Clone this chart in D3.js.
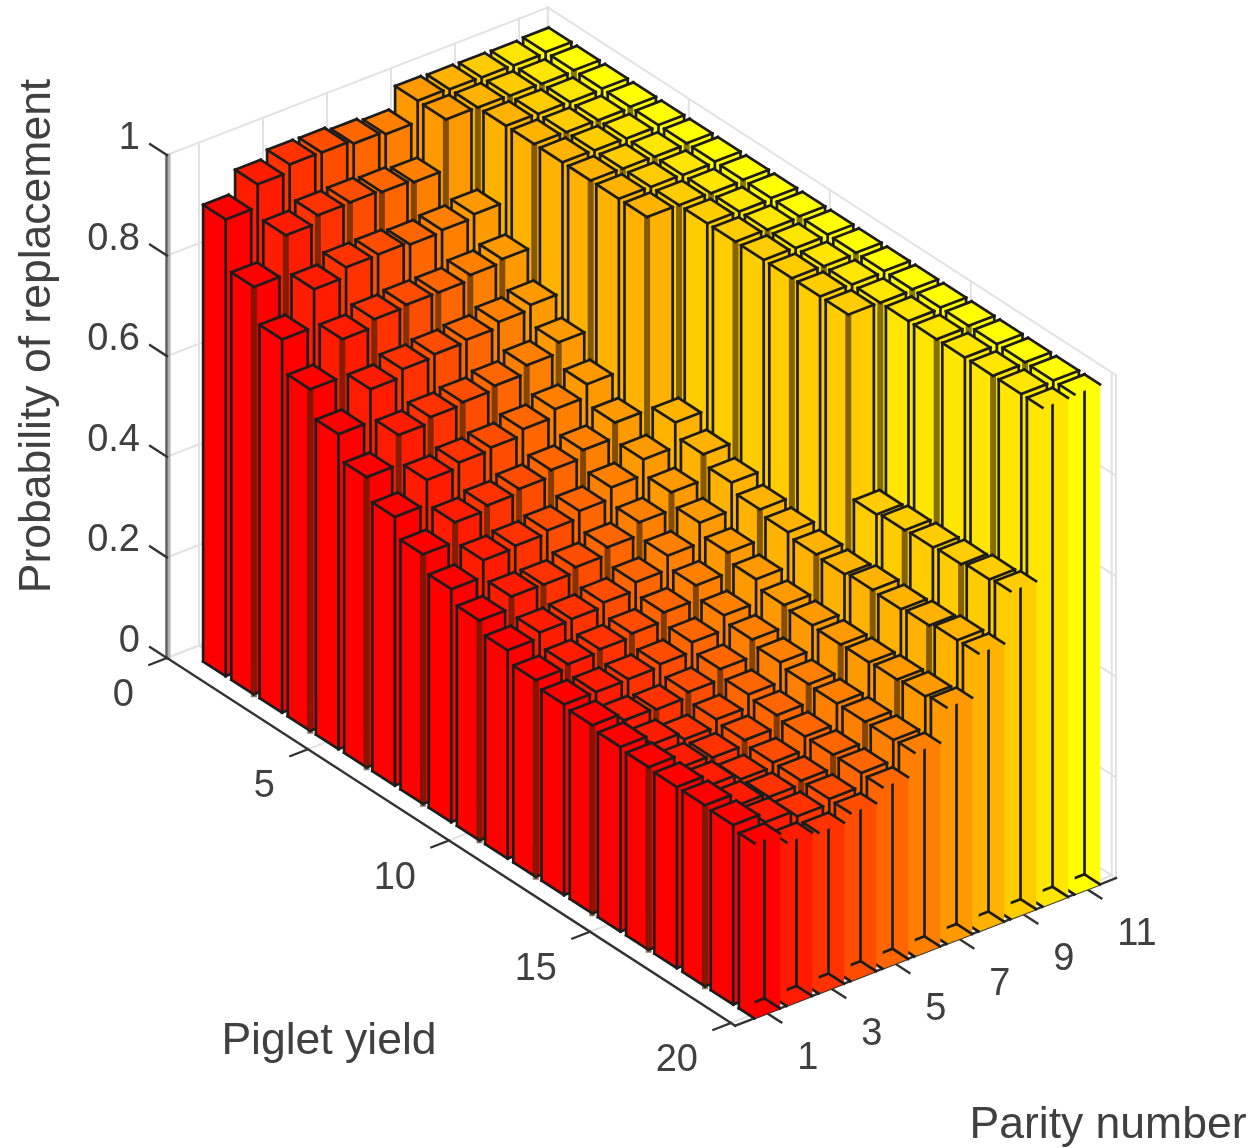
<!DOCTYPE html>
<html>
<head>
<meta charset="utf-8">
<script src="https://cdn.jsdelivr.net/npm/d3@7"></script>
<style>
body { margin: 0; background: #fff; }
text { font-family: "Liberation Sans", Arial, sans-serif; fill: #404040; }
</style>
</head>
<body>
<svg id="chart" width="1255" height="1148"></svg>
<script>
// one list per parity number, one value per piglet yield (1..20)
const parity1 = [.908,.81,.742,.679,.626,.577,.534,.496,.463,.437,.414,.391,.379,.374,.367,.363,.36,.36,.357,.348];
const parity2 = [.953,.888,.817,.754,.691,.636,.583,.535,.496,.46,.425,.398,.379,.359,.348,.338,.338,.335,.338,.325];
const parity3 = [.968,.903,.836,.769,.706,.647,.593,.544,.5,.459,.427,.403,.38,.356,.333,.333,.326,.327,.325,.32];
const parity4 = [.967,.904,.837,.773,.711,.652,.598,.552,.506,.469,.435,.41,.385,.366,.348,.343,.335,.335,.335,.334];
const parity5 = [.96,.9,.832,.773,.715,.66,.61,.565,.52,.484,.451,.427,.404,.387,.373,.368,.362,.362,.362,.361];
const parity6 = [.954,.895,.836,.783,.726,.676,.625,.58,.542,.509,.479,.456,.433,.421,.412,.405,.403,.403,.403,.405];
const parity7 = [.996,.995,.843,.79,.735,.697,.65,.61,.573,.544,.52,.497,.48,.465,.461,.459,.46,.462,.465,.47];
const parity8 = [.994,.994,.994,.994,.994,.994,.994,.994,.622,.595,.575,.558,.549,.541,.538,.543,.541,.545,.552,.553];
const parity9 = [.993,.993,.993,.993,.993,.993,.993,.993,.993,.993,.993,.993,.993,.993,.632,.637,.639,.642,.648,.652];
const parity10 = [.992,.992,.992,.992,.992,.992,.992,.992,.992,.992,.992,.992,.992,.992,.992,.992,.992,.992,.992,.992];
const parity11 = [.994,.994,.994,.994,.994,.994,.994,.994,.994,.994,.994,.994,.994,.994,.994,.994,.994,.994,.994,.994];
const allParity = [parity1,parity2,parity3,parity4,parity5,parity6,parity7,parity8,parity9,parity10,parity11];

const parityTicks = [1,3,5,7,9,11];
const yieldTicks = [0,5,10,15,20];
const zTicks = [0,0.2,0.4,0.6,0.8,1];

const svg = d3.select("#chart");

const blur = svg.append("filter").attr("id","soft");
blur.append("feGaussianBlur").attr("stdDeviation",0.7);
const root = svg.append("g").attr("filter","url(#soft)");

const pMin = 0, pMax = 11.9, yMin = 0, yMax = 20.15, halfBar = 0.4;
const originX = 167, originY = 658;

// oblique axes of the 3d box
const parityX = d3.scaleLinear().domain([0,12]).range([0,384]);
const parityY = d3.scaleLinear().domain([0,12]).range([0,-148.8]);
const yieldX = d3.scaleLinear().domain([0,20]).range([0,564]);
const yieldY = d3.scaleLinear().domain([0,20]).range([0,365]);
const zY = d3.scaleLinear().domain([0,1]).range([0,-503]);
const color = d3.scaleLinear().domain([1,11]).range(["#ff0000","#ffff00"]);

function project(p, y, z) {
    return [originX + parityX(p) + yieldX(y), originY + parityY(p) + yieldY(y) + zY(z)];
}

function seg(g, a, b, stroke, width) {
    g.append("line")
        .attr("x1", a[0]).attr("y1", a[1])
        .attr("x2", b[0]).attr("y2", b[1])
        .attr("stroke", stroke).attr("stroke-width", width)
        .attr("stroke-linecap", "square");
}

function poly(g, pts, fill) {
    g.append("polygon")
        .attr("points", pts.map(d => d.join(",")).join(" "))
        .attr("fill", fill).attr("stroke", fill).attr("stroke-width", 0.5);
}

// box walls and grid
const gridCol = "#e2e2e2";
const walls = root.append("g");
zTicks.forEach(z => {
    seg(walls, project(pMin,yMin,z), project(pMax,yMin,z), gridCol, 2);
    seg(walls, project(pMax,yMin,z), project(pMax,yMax,z), gridCol, 2);
});
parityTicks.forEach(p => {
    seg(walls, project(p,yMin,0), project(p,yMin,1), gridCol, 2);
    seg(walls, project(p,yMin,0), project(p,yMax,0), gridCol, 2);
});
yieldTicks.forEach(y => {
    seg(walls, project(pMax,y,0), project(pMax,y,1), gridCol, 2);
    seg(walls, project(pMin,y,0), project(pMax,y,0), gridCol, 2);
});
seg(walls, project(pMax,yMin,0), project(pMax,yMin,1), gridCol, 2);
seg(walls, project(pMax,yMax,0), project(pMax,yMax,1), gridCol, 2);

// axis lines and ticks
const axisCol = "#333333";
const axes = root.append("g");
seg(axes, [169,155], [169,658], "#b0b0b0", 3);
seg(axes, [166.5,155], [166.5,658], "#5a5a5a", 2.4);
seg(axes, project(pMin,yMin,0), project(pMin,yMax,0), axisCol, 2.4);
seg(axes, project(pMin,yMax,0), project(pMax,yMax,0), axisCol, 2.4);
zTicks.forEach(z => {
    seg(axes, project(pMin,yMin,z), project(pMin,yMin-0.6,z), axisCol, 2.4);
});
yieldTicks.forEach(y => {
    seg(axes, project(pMin,y,0), project(pMin-0.55,y,0), axisCol, 2.4);
});
parityTicks.forEach(p => {
    seg(axes, project(p,yMax,0), project(p,yMax+0.5,0), axisCol, 2.4);
});

// bars, painted back to front
const bars = [];
d3.range(1,21).forEach(r => {
    d3.range(11,0,-1).forEach(c => {
        bars.push({row: r, col: c, z: allParity[c-1][r-1]});
    });
});

const lineCol = "#1e1e1e", lineW = 2.7;

root.append("g").selectAll("g")
    .data(bars)
    .join("g")
    .each(function(d) {
        const g = d3.select(this);
        const fill = color(d.col);
        const p0 = d.col - halfBar, p1 = d.col + halfBar;
        const y0 = d.row - halfBar, y1 = Math.min(d.row + halfBar, yMax);
        const cut = d.row + halfBar > yMax;

        if (cut) {
            // the y limit slices the front row open, so the inside shows
            poly(g, [project(p0,y0,0),project(p1,y0,0),project(p1,y1,0),project(p0,y1,0)], fill);
            poly(g, [project(p0,y0,0),project(p1,y0,0),project(p1,y0,d.z),project(p0,y0,d.z)], fill);
            poly(g, [project(p1,y0,0),project(p1,y1,0),project(p1,y1,d.z),project(p1,y0,d.z)], fill);
            seg(g, project(p1,y0,0), project(p1,y0,d.z), lineCol, lineW);
            seg(g, project(p1,y0,0), project(p0,y0,0), lineCol, lineW);
            seg(g, project(p1,y0,0), project(p1,y1,0), lineCol, lineW);
        }

        // left face
        poly(g, [project(p0,y0,0),project(p0,y1,0),project(p0,y1,d.z),project(p0,y0,d.z)], fill);
        seg(g, project(p0,y0,0), project(p0,y0,d.z), lineCol, lineW);
        seg(g, project(p0,y0,0), project(p0,y1,0), lineCol, lineW);

        if (!cut) {
            // front face
            poly(g, [project(p0,y1,0),project(p1,y1,0),project(p1,y1,d.z),project(p0,y1,d.z)], fill);
            seg(g, project(p1,y1,0), project(p1,y1,d.z), lineCol, lineW);
            seg(g, project(p0,y1,0), project(p1,y1,0), lineCol, lineW);
            if (d.row % 2 === 0) {
                seg(g, project(p0,y1,0), project(p0,y1,d.z), "rgba(50,30,10,0.6)", 6);
            } else {
                seg(g, project(p0,y1,0), project(p0,y1,d.z), lineCol, lineW);
            }
        }

        // top
        poly(g, [project(p0,y0,d.z),project(p1,y0,d.z),project(p1,y1,d.z),project(p0,y1,d.z)], fill);
        seg(g, project(p0,y0,d.z), project(p1,y0,d.z), lineCol, lineW);
        seg(g, project(p1,y0,d.z), project(p1,y1,d.z), lineCol, lineW);
        seg(g, project(p0,y0,d.z), project(p0,y1,d.z), lineCol, lineW);
        if (!cut) seg(g, project(p0,y1,d.z), project(p1,y1,d.z), lineCol, lineW);
    });

// tick labels
const labels = root.append("g").attr("font-size", 38);
labels.selectAll(".zl").data(zTicks).join("text")
    .attr("class","zl")
    .attr("x", 140)
    .attr("y", d => project(pMin,yMin,d)[1] - 6)
    .attr("text-anchor","end")
    .text(d => d);
labels.selectAll(".yl").data(yieldTicks).join("text")
    .attr("class","yl")
    .attr("x", d => project(pMin,d,0)[0] - 33)
    .attr("y", d => project(pMin,d,0)[1] + 48)
    .attr("text-anchor","end")
    .text(d => d);
labels.selectAll(".pl").data(parityTicks).join("text")
    .attr("class","pl")
    .attr("x", d => project(d,yMax,0)[0] + 30)
    .attr("y", d => project(d,yMax,0)[1] + 56)
    .attr("text-anchor","start")
    .text(d => d);

// axis titles
root.append("text").attr("x",329).attr("y",1054).attr("font-size",44.5)
    .attr("text-anchor","middle").text("Piglet yield");
root.append("text").attr("x",1108).attr("y",1138).attr("font-size",44.5)
    .attr("text-anchor","middle").text("Parity number");
root.append("text").attr("transform","translate(50,336) rotate(-90)").attr("font-size",44.5)
    .attr("text-anchor","middle").text("Probability of replacement");
</script>
</body>
</html>
